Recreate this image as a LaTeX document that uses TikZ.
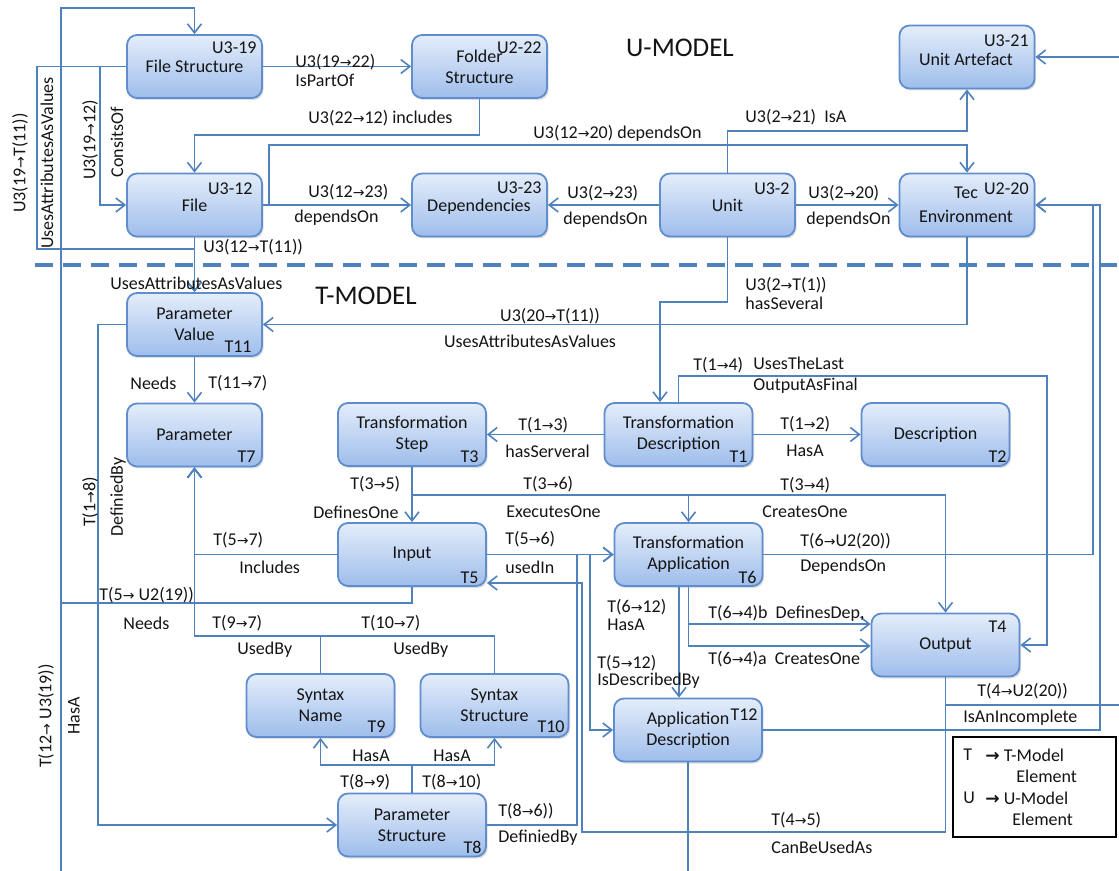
\documentclass[tikz,border=0pt]{standalone}
\usepackage{fontspec}
\setmainfont{Carlito}
\newfontfamily\arrf{DejaVu Sans}[Scale=0.78]
\newfontfamily\legarrf{DejaVu Sans Bold}[Scale=0.95]
\usetikzlibrary{arrows.meta,shadows}
\definecolor{linec}{RGB}{79,129,189}
\definecolor{bordc}{RGB}{95,141,205}
\definecolor{boxtop}{RGB}{228,237,250}
\definecolor{boxbot}{RGB}{158,189,235}
\definecolor{txt}{RGB}{20,20,20}
\newcommand\rarr{{\arrf →}}
\newcommand\lfont{\fontsize{9}{10.5}\selectfont}
\newcommand\tfont{\fontsize{13.5}{15}\selectfont}
\begin{document}
\begin{tikzpicture}[x=0.5pt,y=-0.5pt,
  box/.style={draw=bordc, line width=0.9pt, rounded corners=5pt, top color=boxtop, bottom color=boxbot,
    minimum height=31.5pt, inner sep=0pt, align=center, font=\lfont, text=txt,
    drop shadow={shadow xshift=0.8pt, shadow yshift=-1pt, opacity=0.25}},
  ubox/.style={box, minimum width=67.5pt},
  tbox/.style={box, minimum width=74pt},
  conn/.style={draw=linec, line width=0.75pt},
  arr/.style={conn, -{Straight Barb[length=4.5pt,width=7pt,line width=0.8pt]}},
  lbl/.style={font=\lfont, text=txt, inner sep=0pt, anchor=west},
  clbl/.style={font=\lfont, text=txt, inner sep=0pt},
  rlbl/.style={font=\lfont, text=txt, inner sep=0pt, rotate=90},
  tag/.style={font=\lfont, text=txt, inner sep=0pt, anchor=east},
  ttl/.style={font=\tfont, text=txt, inner sep=0pt}]
\useasboundingbox (0,0) rectangle (1119,871);

% ---------- boxes ----------
\node[ubox] (fs) at (194.5,66.5) {File Structure};
\node[ubox] (folder) at (479.5,66.5) {Folder\\Structure};
\node[ubox] (ua) at (967,57) {};
\node[clbl] (uaT) at (966,59) {Unit Artefact};
\node[ubox] (file) at (194.5,205) {File};
\node[ubox] (dep) at (479.5,205) {};
\node[clbl] (depT) at (479,207) {Dependencies};
\node[ubox] (unit) at (727.5,205) {Unit};
\node[ubox] (tec) at (967,205) {};
\node[clbl] (tecA) at (966,193) {Tec};
\node[clbl] (tecB) at (966,216) {Environment};
\node[ubox] (t11) at (194.5,324.5) {Parameter\\Value};
\node[ubox] (t7) at (194.5,435) {Parameter};
\node[tbox] (t3) at (412,434.5) {Transformation\\Step};
\node[tbox] (t1) at (678.5,434.5) {Transformation\\Description};
\node[tbox] (t2) at (935.5,434.5) {Description};
\node[tbox] (t5) at (412,554.5) {Input};
\node[tbox] (t6) at (688.5,554.5) {Transformation\\Application};
\node[tbox] (t4) at (945.5,645) {Output};
\node[tbox] (t9) at (320.5,705.5) {Syntax\\Name};
\node[tbox] (t10) at (494.5,705.5) {Syntax\\Structure};
\node[tbox] (t12) at (688,730) {Application\\Description};
\node[tbox] (t8) at (412,825) {Parameter\\Structure};

% ---------- id tags ----------
\node[tag] (g1) at (257,48) {U3-19};
\node[tag] (g2) at (542,48) {U2-22};
\node[tag] (g3) at (1029,41) {U3-21};
\node[tag] (g4) at (253,189) {U3-12};
\node[tag] (g5) at (542,188) {U3-23};
\node[tag] (g6) at (790,189) {U3-2};
\node[tag] (g7) at (1029,189) {U2-20};
\node[tag] (g8) at (252,347) {T11};
\node[tag] (g9) at (256,457) {T7};
\node[tag] (g10) at (479,457) {T3};
\node[tag] (g11) at (748,457) {T1};
\node[tag] (g12) at (1007,457) {T2};
\node[tag] (g13) at (479,578) {T5};
\node[tag] (g14) at (757,577) {T6};
\node[tag] (g15) at (1007,627) {T4};
\node[tag] (g16) at (386,727) {T9};
\node[tag] (g17) at (565,727) {T10};
\node[tag] (g18) at (758,715) {T12};
\node[tag] (g19) at (482,847) {T8};

% ---------- titles, separator ----------
\node[ttl] (umodel) at (680,48) {U-MODEL};
\node[ttl] (tmodel) at (366,296) {T-MODEL};
\draw[linec, line width=2.3pt, dash pattern=on 9pt off 5pt] (35,265) -- (1119,265);

% ---------- off-picture ends ----------
\coordinate (offL) at (61,871);
\coordinate (offB) at (688,871);
\coordinate (offR1) at (1119,57);
\coordinate (offR2) at (1119,705);

% ---------- U-model connectors ----------
\draw[arr] (t5.south) |- (61,603) |- (fs.north |- 0,8) -- (fs.north);
\draw[conn] (offL) -- (61,603);
\draw[conn] (t12.south) -- (offB);
\draw[arr] (fs.west) -- (fs.west -| 100,0) |- (file.west);
\draw[arr] (fs.west) -| (37,249) -| (t11.north);
\draw[arr] (file.south) -- (t11.north);
\draw[arr] (fs.east) -- (folder.west);
\draw[arr] (folder.south) |- (file.north |- 0,135) -- (file.north);
\draw[arr] (file.east) -- (269,205) |- (tec.north |- 0,145) -- (tec.north);
\draw[arr] (file.east) -- (dep.west);
\draw[arr] (unit.west) -- (dep.east);
\draw[arr] (unit.east) -- (tec.west);
\draw[arr] (unit.north) |- (ua.south |- 0,131) -- (ua.south);
\draw[arr] (offR1) -- (ua.east);
\draw[arr] (tec.south) |- (t11.east);
\draw[arr] (unit.south) |- (727.5,302) -| (t1.north -| 660,0);

% ---------- T-model connectors ----------
\draw[arr] (t6.east) -| (tec.east -| 1093,0) -- (tec.east);
\draw[arr] (t12.east) -| (tec.east -| 1100,0) -- (tec.east);
\draw[conn] (t4.south) |- (offR2);
\draw[arr] (t4.south) |- (582,832) |- (t5.east |- 0,583);
\draw[arr] (t11.south) -- (t7.north);
\draw[arr] (t1.north) |- (1047,376) |- (t4.east);
\draw[arr] (t1.west) -- (t3.east);
\draw[arr] (t1.east) -- (t2.west);
\draw[arr] (t3.south) -- (t5.north);
\draw[arr] (t3.south) |- (t6.north |- 0,495) -- (t6.north);
\draw[arr] (t3.south) |- (t4.north |- 0,495) -- (t4.north);
\draw[arr] (t5.west) -| (t7.south);
\draw[arr] (t9.north) |- (t7.south |- 0,636) -- (t7.south);
\draw[arr] (t10.north) |- (t7.south |- 0,636) -- (t7.south);
\draw[arr] (t5.east) -- (t6.west);
\draw[arr] (t8.east) -| (t6.west -| 577,0) -- (t6.west);
\draw[arr] (t5.east) -| (t12.west -| 590,0) -- (t12.west);
\draw[arr] (t6.south -| 679,0) -- (t12.north -| 679,0);
\draw[arr] (t6.south) |- (t4.west |- 0,624);
\draw[arr] (t6.south) |- (t4.west |- 0,646);
\draw[arr] (t8.north) |- (t9.south |- 0,765) -- (t9.south);
\draw[arr] (t8.north) |- (t10.south |- 0,765) -- (t10.south);
\draw[arr] (t11.west) -| (t8.west -| 98,0) -- (t8.west);

% ---------- connector labels (U-model) ----------
\node[lbl] (l1) at (295,62) {U3(19\rarr22)};
\node[lbl] (l2) at (295,80) {IsPartOf};
\node[lbl] (l3) at (308,118) {U3(22\rarr12) includes};
\node[lbl] (l4) at (533,133) {U3(12\rarr20) dependsOn};
\node[lbl] (l5) at (745,117) {U3(2\rarr21)\ \ IsA};
\node[lbl] (l6) at (308,192) {U3(12\rarr23)};
\node[lbl] (l7) at (294,218) {dependsOn};
\node[lbl] (l8) at (567,193) {U3(2\rarr23)};
\node[lbl] (l9) at (563,220) {dependsOn};
\node[lbl] (l10) at (808,193) {U3(2\rarr20)};
\node[lbl] (l11) at (806,220) {dependsOn};
\node[lbl] (l12) at (203,247) {U3(12\rarr T(11))};
\node[lbl] (l13) at (110,283) {UsesAttributesAsValues};
\node[rlbl] (l14) at (20,163) {U3(19\rarr T(11))};
\node[rlbl] (l15) at (47,163) {UsesAttributesAsValues};
\node[rlbl] (l16) at (90,140) {U3(19\rarr12)};
\node[rlbl] (l17) at (117,142) {ConsitsOf};

% ---------- connector labels (T-model) ----------
\node[lbl] (m1) at (745,285) {U3(2\rarr T(1))};
\node[lbl] (m2) at (745,303) {hasSeveral};
\node[clbl] (m3) at (550,316) {U3(20\rarr T(11))};
\node[clbl] (m4) at (530,341) {UsesAttributesAsValues};
\node[lbl] (m5) at (130,383) {Needs};
\node[lbl] (m6) at (208,383) {T(11\rarr7)};
\node[lbl] (m7) at (693,365) {T(1\rarr4)};
\node[lbl] (m8) at (753,363) {UsesTheLast};
\node[lbl] (m9) at (753,386) {OutputAsFinal};
\node[lbl] (m10) at (518,425) {T(1\rarr3)};
\node[lbl] (m11) at (505,451) {hasServeral};
\node[lbl] (m12) at (780,424) {T(1\rarr2)};
\node[lbl] (m13) at (786,451) {HasA};
\node[lbl] (m14) at (350,484) {T(3\rarr5)};
\node[lbl] (m15) at (313,512) {DefinesOne};
\node[lbl] (m16) at (523,484) {T(3\rarr6)};
\node[lbl] (m17) at (506,512) {ExecutesOne};
\node[lbl] (m18) at (780,485) {T(3\rarr4)};
\node[lbl] (m19) at (762,512) {CreatesOne};
\node[lbl] (m20) at (213,540) {T(5\rarr7)};
\node[lbl] (m21) at (239,567) {Includes};
\node[lbl] (m22) at (505,539) {T(5\rarr6)};
\node[lbl] (m23) at (505,567) {usedIn};
\node[lbl] (m24) at (800,541) {T(6\rarr U2(20))};
\node[lbl] (m25) at (800,567) {DependsOn};
\node[lbl] (m26) at (99,595) {T(5\rarr\ U2(19))};
\node[lbl] (m27) at (123,623) {Needs};
\node[lbl] (m28) at (212,623) {T(9\rarr7)};
\node[lbl] (m29) at (237,650) {UsedBy};
\node[lbl] (m30) at (361,623) {T(10\rarr7)};
\node[lbl] (m31) at (393,650) {UsedBy};
\node[lbl] (m32) at (607,607) {T(6\rarr12)};
\node[lbl] (m33) at (607,625) {HasA};
\node[lbl] (m34) at (597,663) {T(5\rarr12)};
\node[lbl] (m35) at (597,681) {IsDescribedBy};
\node[lbl] (m36) at (708,613) {T(6\rarr4)b\ \ DefinesDep,};
\node[lbl] (m37) at (708,659) {T(6\rarr4)a\ \ CreatesOne};
\node[lbl] (m38) at (977,691) {T(4\rarr U2(20))};
\node[lbl] (m39) at (963,718) {IsAnIncomplete};
\node[lbl] (m40) at (352,756) {HasA};
\node[lbl] (m41) at (433,756) {HasA};
\node[lbl] (m42) at (340,782) {T(8\rarr9)};
\node[lbl] (m43) at (422,782) {T(8\rarr10)};
\node[lbl] (m44) at (498,811) {T(8\rarr6))};
\node[lbl] (m45) at (498,838) {DefiniedBy};
\node[lbl] (m46) at (771,820) {T(4\rarr5)};
\node[lbl] (m47) at (771,847) {CanBeUsedAs};
\node[rlbl] (m48) at (90,502) {T(1\rarr8)};
\node[rlbl] (m49) at (118,497) {DefiniedBy};
\node[rlbl] (m50) at (46,716) {T(12\rarr\ U3(19))};
\node[rlbl] (m51) at (74,716) {HasA};

% ---------- legend ----------
\node[draw=black, line width=1.2pt, minimum width=81.5pt, minimum height=50pt, inner sep=0pt] (legend) at (1034.5,787) {};
\node[lbl] (lg1) at (963,755) {T};
\node[lbl] (lg2) at (985,755) {{\legarrf →} T-Model};
\node[lbl] (lg3) at (1016,776) {Element};
\node[lbl] (lg4) at (963,798) {U};
\node[lbl] (lg5) at (985,798) {{\legarrf →} U-Model};
\node[lbl] (lg6) at (1012,819) {Element};
\end{tikzpicture}
\end{document}
